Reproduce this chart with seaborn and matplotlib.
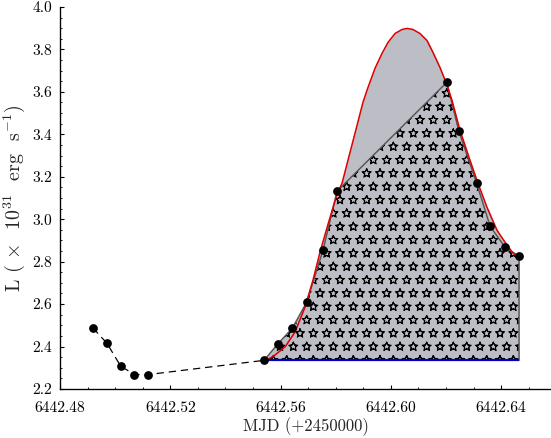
import matplotlib
matplotlib.use("Agg")
import matplotlib.pyplot as plt
import matplotlib.hatch
import seaborn as sns
import pandas as pd

# hollow stars in the '*' hatch, as in the reference
matplotlib.hatch.Stars.filled = False

# ---- data ----
pre_mjd = [6442.492, 6442.497, 6442.502, 6442.507, 6442.512]
pre_lum = [2.487, 2.416, 2.308, 2.268, 2.268]

flare_mjd = [6442.5540, 6442.5591, 6442.5643, 6442.5695, 6442.5754, 6442.5805,
             6442.6203, 6442.6247, 6442.6311, 6442.6360, 6442.6414, 6442.6465]
flare_lum = [2.335, 2.414, 2.487, 2.610, 2.854, 3.132,
             3.645, 3.414, 3.170, 2.967, 2.868, 2.826]

# red model curve
fit_mjd = [6442.55399, 6442.55798, 6442.56161, 6442.56524, 6442.56887, 6442.57177,
           6442.57431, 6442.57721, 6442.58047, 6442.58229, 6442.58446, 6442.58700,
           6442.58990, 6442.59172, 6442.59426, 6442.59679, 6442.59897, 6442.60151,
           6442.60405, 6442.60586, 6442.60804, 6442.61058, 6442.61312, 6442.61529,
           6442.61783, 6442.62001, 6442.62218, 6442.62508, 6442.62871, 6442.63161,
           6442.63488, 6442.63851, 6442.64213, 6442.64431, 6442.64649]
fit_lum = [2.327, 2.360, 2.398, 2.468, 2.586, 2.713,
           2.845, 2.976, 3.118, 3.169, 3.278, 3.405,
           3.551, 3.621, 3.711, 3.781, 3.833, 3.875,
           3.894, 3.899, 3.894, 3.875, 3.842, 3.786,
           3.715, 3.645, 3.560, 3.419, 3.278, 3.169,
           3.056, 2.948, 2.878, 2.840, 2.816]

baseline = 2.335

xticks = [6442.48, 6442.52, 6442.56, 6442.60, 6442.64]
yticks = [2.2, 2.4, 2.6, 2.8, 3.0, 3.2, 3.4, 3.6, 3.8, 4.0]

# ---- style ----
sns.set_theme(style="ticks")
plt.rcParams.update({
    "font.family": ["cmr10", "DejaVu Serif"],
    "mathtext.fontset": "cm",
    "axes.formatter.use_mathtext": True,
    "hatch.linewidth": 0.9,
    "hatch.color": "black",
})

DPI = 80
fig = plt.figure(figsize=(551 / DPI, 438 / DPI), dpi=DPI)
ax = fig.add_axes([60 / 551, 1 - 389 / 438, 1 - 60 / 551, (389 - 7) / 438])

grey = "#bdbdc5"

# grey area under model curve
ax.fill_between(fit_mjd, fit_lum, baseline, color=grey, lw=0, zorder=1)

# hatched polygon under the data points
poly_x = flare_mjd + [flare_mjd[-1], flare_mjd[0]]
poly_y = flare_lum + [baseline, baseline]
ax.fill(poly_x, poly_y, facecolor=grey, edgecolor="black", lw=0, hatch="*", zorder=2)
ax.plot(poly_x[:-1], poly_y[:-1], color="#555555", lw=1.3, zorder=3)

# dashed connection of early points
dash_df = pd.DataFrame({"mjd": pre_mjd + [flare_mjd[0]],
                        "lum": pre_lum + [flare_lum[0]]})
sns.lineplot(data=dash_df, x="mjd", y="lum", ax=ax, color="black", lw=1.1,
             linestyle=(0, (6, 4)), sort=False, estimator=None, zorder=3)

# model curve
fit_df = pd.DataFrame({"mjd": fit_mjd, "lum": fit_lum})
sns.lineplot(data=fit_df, x="mjd", y="lum", ax=ax, color="#dd0000", lw=1.4,
             sort=False, estimator=None, zorder=4)

# baseline
ax.plot([flare_mjd[0], flare_mjd[-1]], [baseline, baseline], color="#0000cc",
        lw=2.0, zorder=4, solid_capstyle="butt")

# points
pts_df = pd.DataFrame({"mjd": pre_mjd + flare_mjd, "lum": pre_lum + flare_lum})
sns.scatterplot(data=pts_df, x="mjd", y="lum", ax=ax, color="black", s=62,
                edgecolor="black", linewidth=0, zorder=5)

ax.set_xlim(6442.48, 6442.48 + 491 / 2757)
ax.set_ylim(2.2, 4.0)
ax.set_xticks(xticks)
ax.set_xticklabels([f"{v:.2f}" for v in xticks])
ax.set_yticks(yticks)
ax.set_yticklabels([f"{v:.1f}" for v in yticks])
ax.xaxis.set_minor_locator(matplotlib.ticker.MultipleLocator(0.01))
ax.yaxis.set_minor_locator(matplotlib.ticker.MultipleLocator(0.05))
ax.tick_params(which="major", direction="in", length=4, width=1.0,
               labelsize=14, colors="black")
ax.tick_params(axis="x", which="major", pad=11)
ax.tick_params(axis="y", which="major", pad=7)
ax.tick_params(which="minor", direction="in", length=2, width=0.8, colors="black")
for s in ["top", "right"]:
    ax.spines[s].set_visible(False)
for s in ["left", "bottom"]:
    ax.spines[s].set_color("black")
    ax.spines[s].set_linewidth(1.2)

ax.set_xlabel("MJD (+2450000)", fontsize=15, labelpad=2)
ax.set_ylabel(r"L ( $\times$  10$^{31}$  erg  s$^{-1}$)", fontsize=18, labelpad=5)

fig.savefig("out.png", dpi=DPI)
